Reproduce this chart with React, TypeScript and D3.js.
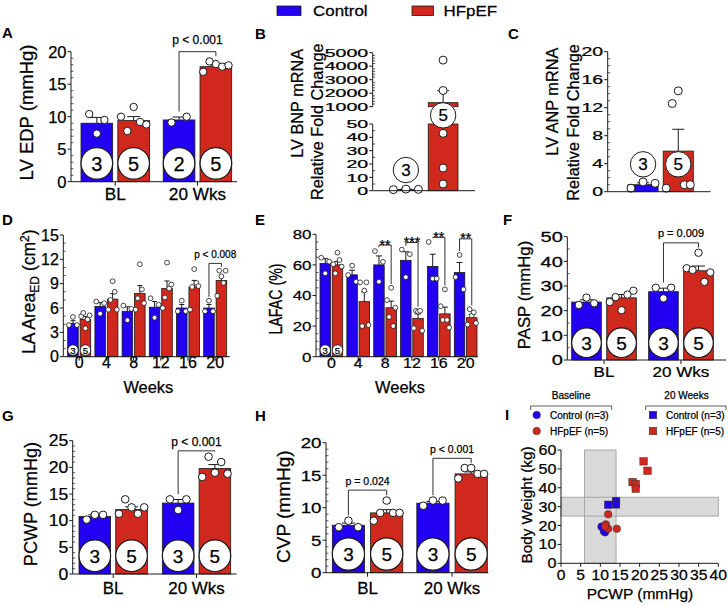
import React from 'react';
import * as d3 from 'd3';

const FONT = "'Liberation Sans', Arial, Helvetica, sans-serif";
const BLUE = '#2200f2';
const RED = '#d0281c';
const INK = '#1a1a1a';
const SERIES = ['Control', 'HFpEF'];
const COLORS = [BLUE, RED];

// ---------------- data ----------------
const GROUPS_BL = ['BL', '20 Wks'];
const WEEKS = ['0', '4', '8', '12', '16', '20'];

// A: LV EDP
const aTicks = [0, 5, 10, 15, 20];
const aCtrlMean = [9.0, 9.5];
const aHfMean = [9.4, 17.7];
const aCtrlPts = [[10.4, 7.4, 9.5], [9.1, 10.0]];
const aHfPts = [[10.0, 7.8, 11.5, 9.2, 8.8], [16.9, 18.5, 18.1, 17.7, 17.9]];
const aCtrlN = [3, 2];
const aHfN = [5, 5];

// B: LV BNP mRNA (broken axis)
const bTicksLow = [0, 10, 20, 30, 40, 50];
const bTicksHigh = [1000, 2000, 3000, 4000, 5000];
const bCtrlMean = 1.0;
const bHfMean = 1300;
const bCtrlPts = [0.8, 1.2, 1.0];
const bHfPts = [4450, 2200, 43, 17, 5];
const bN = [3, 5];

// C: LV ANP mRNA
const cTicks = [0, 4, 8, 12, 16, 20];
const cCtrlMean = [1.0];
const cHfMean = [5.8];
const cCtrlPts = [[0.5, 1.4, 1.2]];
const cHfPts = [[0.5, 12.6, 14.4, 1.0, 1.0]];
const cCtrlN = [3];
const cHfN = [5];

// D: LA Area ED
const dTicks = [0, 3, 6, 9, 12, 15];
const dCtrlMean = [4.1, 6.2, 5.6, 6.1, 6.0, 6.0];
const dHfMean = [4.6, 7.1, 7.8, 8.4, 8.6, 9.4];
const dCtrlPts = [[3.9, 4.9, 3.9], [6.8, 5.3, 6.6], [6.3, 4.5, 5.9], [7.2, 4.8, 6.4], [5.6, 6.9, 5.6], [5.6, 6.9, 5.6]];
const dHfPts = [[5.0, 5.4, 3.5, 4.6, 5.1], [5.8, 7.0, 9.3, 8.0, 5.8], [5.8, 7.2, 11.4, 8.3, 6.6], [6.0, 7.3, 11.6, 8.4, 8.9], [5.8, 8.6, 10.8, 9.1, 8.7], [7.5, 10.6, 9.9, 9.1, 10.6]];
const dCtrlN = [3, null, null, null, null, null];
const dHfN = [5, null, null, null, null, null];

// E: LAFAC
const eTicks = [0, 20, 40, 60, 80];
const eCtrlMean = [61, 53.5, 60, 63, 59, 55];
const eHfMean = [60, 36, 32, 25, 28, 25.5];
const eCtrlPts = [[64.7, 54.5, 62.1], [53.4, 59.5, 49], [69, 49, 62], [70, 52, 67], [75, 51, 51], [52, 66.5, 44]];
const eHfPts = [[60.4, 54.5, 68, 63.2, 58.9], [48.6, 20, 43.2, 48.6, 20.7], [37, 26, 45, 20, 32], [18.6, 30, 29.4, 30, 17], [33, 24, 44, 24, 19], [21, 31, 27, 29, 22]];
const eCtrlN = [3, null, null, null, null, null];
const eHfN = [5, null, null, null, null, null];
const eStars = ['**', '***', '**', '**'];
const eStarLevels = [73, 74.6, 78, 77];

// F: PASP
const fTicks = [0, 10, 20, 30, 40, 50];
const fCtrlMean = [23.5, 27.7];
const fHfMean = [25.2, 36.2];
const fCtrlPts = [[22.3, 25.3, 23.0], [29.3, 25.0, 29.3]];
const fHfPts = [[23.5, 25.5, 20.2, 26.5, 28.1], [37.2, 36.5, 43.5, 31.7, 35.5]];
const fN = [[3, 3], [5, 5]];

// G: PCWP
const gTicks = [0, 5, 10, 15, 20, 25];
const gCtrlMean = [10.8, 13.3];
const gHfMean = [12.1, 19.8];
const gCtrlPts = [[10.2, 11.1, 11.1], [14.0, 12.0, 14.0]];
const gHfPts = [[11.3, 14.0, 12.5, 11.3, 12.5], [18.2, 22.0, 19.0, 21.0, 18.8]];
const gN = [[3, 3], [5, 5]];

// H: CVP
const hTicks = [0, 5, 10, 15, 20];
const hCtrlMean = [7.3, 10.7];
const hHfMean = [9.2, 15.2];
const hCtrlPts = [[7.0, 8.0, 7.0], [10.3, 11.1, 11.1]];
const hHfPts = [[8.0, 9.2, 11.1, 9.2, 9.2], [14.5, 16.1, 16.1, 15.2, 15.2]];
const hN = [[3, 3], [5, 5]];

// I: Body weight vs PCWP
const iXTicks = [0, 5, 10, 15, 20, 25, 30, 35, 40];
const iYTicks = [0, 10, 20, 30, 40, 50, 60];
const iBandX = [6, 14];
const iBandY = [25, 35];
const iBaseCtrlX = [10.9, 10.3, 11.2];
const iBaseCtrlY = [17.0, 19.4, 16.4];
const iBaseHfX = [12.0, 11.4, 12.0, 14.2, 11.2];
const iBaseHfY = [26.0, 20.6, 18.3, 18.3, 19.6];
const iWkCtrlX = [12.0, 14.0, 14.0];
const iWkCtrlY = [31.0, 33.0, 31.2];
const iWkHfX = [21.0, 22.0, 18.2, 19.0, 19.0];
const iWkHfY = [54.0, 49.0, 43.0, 42.0, 39.5];

// ---------------- helpers ----------------
function Txt({ x, y, children, size, anchor = 'middle', sx = 1, rot = false, weight = 'normal', dy }: any) {
  const tf = `translate(${x},${y})${rot ? ' rotate(-90)' : ''} scale(${rot ? 1 : sx},${rot ? sx : 1})`;
  return (
    <text
      transform={tf}
      fontSize={size}
      textAnchor={anchor}
      fontWeight={weight}
      dy={dy}
      fontFamily={FONT}
      fill="#000"
      stroke="#000"
      strokeWidth={weight === 'bold' ? 0 : 0.25}
    >
      {children}
    </text>
  );
}

function sem(v: number[]) {
  return v.length > 1 ? (d3.deviation(v) as number) / Math.sqrt(v.length) : 0;
}

function BarPanel(p: any) {
  const y = d3.scaleLinear().domain(p.domain).range([p.yBottom, p.yTop]);
  const xg = d3.scaleBand<string>().domain(p.groups).range(p.barsRange).paddingInner(p.padG).paddingOuter(0);
  const xs = d3.scaleBand<string>().domain(SERIES).range([0, xg.bandwidth()]).paddingInner(p.padS).paddingOuter(0);
  const bw = xs.bandwidth();
  const cx = (gi: number, si: number) => (xg(p.groups[gi]) as number) + (xs(SERIES[si]) as number) + bw / 2;
  const minors = d3
    .range(p.domain[0], p.domain[1] + 1e-6, p.minor)
    .filter((v: number) => !p.ticks.some((t: number) => Math.abs(t - v) < 1e-6));
  const offs = (n: number) => {
    const s = n >= 5 ? p.sp5 : p.sp3;
    if (n === 1) return [0];
    return d3.range(n).map((i) => (-1 + (2 * i) / (n - 1)) * s * bw);
  };
  const r = p.circR ?? bw / 2;
  const bars: any[] = [];
  p.groups.forEach((g: string, gi: number) => {
    SERIES.forEach((s, si) => {
      const m = p.means[si][gi];
      const pts = p.pts[si][gi];
      const x0 = cx(gi, si);
      const e = sem(pts);
      bars.push({ gi, si, m, pts, x0, e, n: p.ns[si][gi] });
    });
  });
  return (
    <g>
      {bars.map((b, i) => (
        <rect key={'r' + i} x={b.x0 - bw / 2} y={y(b.m)} width={bw} height={p.yBottom - y(b.m)} fill={COLORS[b.si]} stroke={INK} strokeWidth={0.8} />
      ))}
      {bars.map((b, i) => (
        <g key={'e' + i} stroke={INK} strokeWidth={1}>
          <line x1={b.x0} x2={b.x0} y1={y(b.m)} y2={y(b.m + b.e)} />
          <line x1={b.x0 - p.capW / 2} x2={b.x0 + p.capW / 2} y1={y(b.m + b.e)} y2={y(b.m + b.e)} />
        </g>
      ))}
      {bars
        .filter((b) => b.n != null)
        .map((b, i) => {
          const cy = p.circCy ?? p.yBottom - r - p.circGap;
          return (
            <g key={'c' + i}>
              <circle cx={b.x0} cy={cy} r={r} fill="#fff" stroke={INK} strokeWidth={p.circSW ?? 1.2} />
              <Txt x={b.x0} y={cy} size={p.circFont} dy="0.36em">
                {b.n}
              </Txt>
            </g>
          );
        })}
      {bars.map((b, i) => {
        const o = offs(b.pts.length);
        return (
          <g key={'p' + i}>
            {b.pts.map((v: number, k: number) => (
              <circle key={k} cx={b.x0 + o[k]} cy={y(v)} r={p.ptR} fill="#fff" stroke={INK} strokeWidth={p.ptSW ?? 1} />
            ))}
          </g>
        );
      })}
      {/* axes */}
      <line x1={p.axisX} x2={p.axisX} y1={p.yBottom} y2={p.yTop} stroke={INK} strokeWidth={1} />
      <line x1={p.axisX} x2={p.xEnd} y1={p.yBottom} y2={p.yBottom} stroke={INK} strokeWidth={1} />
      {p.ticks.map((t: number) => (
        <g key={'t' + t}>
          <line x1={p.axisX - 3.5} x2={p.axisX} y1={y(t)} y2={y(t)} stroke={INK} strokeWidth={1} />
          <Txt x={p.axisX - 4.5} y={y(t)} size={p.tickFont} sx={p.tickSx} anchor="end" dy="0.36em">
            {String(t)}
          </Txt>
        </g>
      ))}
      {minors.map((t: number) => (
        <line key={'m' + t} x1={p.axisX} x2={p.axisX + 2.5} y1={y(t)} y2={y(t)} stroke={INK} strokeWidth={0.7} />
      ))}
      {p.catY != null &&
        p.groups.map((g: string) => {
          const gx = (xg(g) as number) + xg.bandwidth() / 2;
          return (
            <g key={'g' + g}>
              <line x1={gx} x2={gx} y1={p.yBottom} y2={p.yBottom + 4} stroke={INK} strokeWidth={1} />
              <Txt x={gx} y={p.catY} size={p.catFont} sx={p.catSx}>
                {g}
              </Txt>
            </g>
          );
        })}
      {p.brackets.map((b: any, i: number) => {
        const xl = cx(b.g, 0);
        const xr = cx(b.g, 1);
        const yl = y(d3.max(p.pts[0][b.g] as number[]) as number) - p.ptR - 1.5;
        const yr = y(d3.max(p.pts[1][b.g] as number[]) as number) - p.ptR - 1.5;
        const yb = y(b.level);
        return (
          <g key={'b' + i}>
            <path d={`M${xl},${yl}V${yb}H${xr}V${yr}`} fill="none" stroke={INK} strokeWidth={0.9} />
            <Txt x={(xl + xr) / 2} y={yb - b.gap} size={b.size} sx={b.sx ?? 1}>
              {b.label}
            </Txt>
          </g>
        );
      })}
    </g>
  );
}

function PanelB() {
  const yLo = d3.scaleLinear().domain([0, 50]).range([190.7, 124]);
  const yHi = d3.scaleLinear().domain([1000, 5000]).range([106.7, 52.7]);
  const yv = (v: number) => (v <= 50 ? yLo(v) : yHi(v));
  const axisX = 372.7;
  const xs = d3.scaleBand<string>().domain(SERIES).range([391, 458]).paddingInner(0.2);
  const bw = xs.bandwidth();
  const cxs = SERIES.map((s) => (xs(s) as number) + bw / 2);
  const minorLo = d3.range(0, 50.01, 5).filter((v) => v % 10 !== 0);
  const minorHi = d3.range(1000, 5000.01, 200).filter((v) => v % 1000 !== 0);
  const ctrlE = sem(bCtrlPts);
  const hfE = sem(bHfPts);
  const ctrlOffs = [-0.42, 0, 0.42].map((f) => f * bw);
  const ptR = 4;
  const midY = (yHi(1000) + yLo(50)) / 2;
  return (
    <g>
      <rect x={cxs[0] - bw / 2} y={yLo(bCtrlMean)} width={bw} height={yLo(0) - yLo(bCtrlMean)} fill={BLUE} stroke={INK} strokeWidth={0.6} />
      <rect x={cxs[1] - bw / 2} y={yLo(50)} width={bw} height={yLo(0) - yLo(50)} fill={RED} stroke={INK} strokeWidth={0.8} />
      <rect x={cxs[1] - bw / 2} y={yHi(bHfMean)} width={bw} height={yHi(1000) - yHi(bHfMean)} fill={RED} stroke={INK} strokeWidth={0.8} />
      <g stroke={INK} strokeWidth={1}>
        <line x1={cxs[1]} x2={cxs[1]} y1={yHi(bHfMean)} y2={yHi(bHfMean + hfE)} />
        <line x1={cxs[1] - 6} x2={cxs[1] + 6} y1={yHi(bHfMean + hfE)} y2={yHi(bHfMean + hfE)} />
        <line x1={cxs[0] - 6} x2={cxs[0] + 6} y1={yLo(bCtrlMean + ctrlE)} y2={yLo(bCtrlMean + ctrlE)} />
      </g>
      <circle cx={cxs[0]} cy={yLo(15.5)} r={12.7} fill="#fff" stroke={INK} strokeWidth={1} />
      <Txt x={cxs[0]} y={yLo(15.5)} size={17} dy="0.36em">{bN[0]}</Txt>
      <circle cx={cxs[1]} cy={midY} r={12.7} fill="#fff" stroke={INK} strokeWidth={1} />
      <Txt x={cxs[1]} y={midY} size={17} dy="0.36em">{bN[1]}</Txt>
      {bCtrlPts.map((v, k) => (
        <circle key={'bc' + k} cx={cxs[0] + ctrlOffs[k]} cy={yv(v)} r={ptR} fill="#fff" stroke={INK} strokeWidth={1} />
      ))}
      {bHfPts.map((v, k) => (
        <circle key={'bh' + k} cx={cxs[1]} cy={yv(v)} r={ptR} fill="#fff" stroke={INK} strokeWidth={1} />
      ))}
      <line x1={axisX} x2={axisX} y1={yLo(0)} y2={yLo(50)} stroke={INK} strokeWidth={1} />
      <line x1={axisX} x2={axisX} y1={yHi(1000)} y2={yHi(5000)} stroke={INK} strokeWidth={1} />
      <line x1={axisX} x2={475} y1={yLo(0)} y2={yLo(0)} stroke={INK} strokeWidth={1} />
      {bTicksLow.map((t) => (
        <g key={'bl' + t}>
          <line x1={axisX - 3.5} x2={axisX} y1={yLo(t)} y2={yLo(t)} stroke={INK} />
          <Txt x={axisX - 4.5} y={yLo(t)} size={11.5} sx={1.7} anchor="end" dy="0.36em">{String(t)}</Txt>
        </g>
      ))}
      {bTicksHigh.map((t) => (
        <g key={'bh' + t}>
          <line x1={axisX - 3.5} x2={axisX} y1={yHi(t)} y2={yHi(t)} stroke={INK} />
          <Txt x={axisX - 4.5} y={yHi(t)} size={11.5} sx={1.7} anchor="end" dy="0.36em">{String(t)}</Txt>
        </g>
      ))}
      {minorLo.map((t) => (
        <line key={'ml' + t} x1={axisX} x2={axisX + 2.5} y1={yLo(t)} y2={yLo(t)} stroke={INK} strokeWidth={0.7} />
      ))}
      {minorHi.map((t) => (
        <line key={'mh' + t} x1={axisX} x2={axisX + 2.5} y1={yHi(t)} y2={yHi(t)} stroke={INK} strokeWidth={0.7} />
      ))}
    </g>
  );
}

function PanelI() {
  const x = d3.scaleLinear().domain([0, 40]).range([561, 718.3]);
  const y = d3.scaleLinear().domain([0, 60]).range([563.3, 450]);
  const band = { fill: '#d9d9d9' };
  const sq = 7.5;
  return (
    <g>
      <rect x={x(iBandX[0])} y={y(60)} width={x(iBandX[1]) - x(iBandX[0])} height={y(0) - y(60)} {...band} />
      <rect x={x(0)} y={y(iBandY[1])} width={x(40) - x(0)} height={y(iBandY[0]) - y(iBandY[1])} {...band} />
      <rect x={x(iBandX[0])} y={y(60)} width={x(iBandX[1]) - x(iBandX[0])} height={y(0) - y(60)} fill="none" stroke="#999" strokeWidth={0.8} />
      <rect x={x(0)} y={y(iBandY[1])} width={x(40) - x(0)} height={y(iBandY[0]) - y(iBandY[1])} fill="none" stroke="#999" strokeWidth={0.8} />
      {iBaseCtrlX.map((v, k) => (
        <circle key={'ibc' + k} cx={x(v)} cy={y(iBaseCtrlY[k])} r={3.8} fill={BLUE} stroke="#333" strokeWidth={0.5} />
      ))}
      {iBaseHfX.map((v, k) => (
        <circle key={'ibh' + k} cx={x(v)} cy={y(iBaseHfY[k])} r={3.8} fill={RED} stroke="#333" strokeWidth={0.5} />
      ))}
      {iWkCtrlX.map((v, k) => (
        <rect key={'iwc' + k} x={x(v) - sq / 2} y={y(iWkCtrlY[k]) - sq / 2} width={sq} height={sq} fill={BLUE} stroke="#333" strokeWidth={0.5} />
      ))}
      {iWkHfX.map((v, k) => (
        <rect key={'iwh' + k} x={x(v) - sq / 2} y={y(iWkHfY[k]) - sq / 2} width={sq} height={sq} fill={RED} stroke="#333" strokeWidth={0.5} />
      ))}
      <line x1={x(0)} x2={x(0)} y1={y(0)} y2={y(60)} stroke={INK} />
      <line x1={x(0)} x2={x(40)} y1={y(0)} y2={y(0)} stroke={INK} />
      {iYTicks.map((t) => (
        <g key={'iy' + t}>
          <line x1={x(0) - 3.5} x2={x(0)} y1={y(t)} y2={y(t)} stroke={INK} />
          <Txt x={x(0) - 4.5} y={y(t)} size={14} sx={1.15} anchor="end" dy="0.36em">{String(t)}</Txt>
        </g>
      ))}
      {iXTicks.map((t) => (
        <g key={'ix' + t}>
          <line x1={x(t)} x2={x(t)} y1={y(0)} y2={y(0) + 3.5} stroke={INK} />
          <Txt x={x(t)} y={580} size={14.5} sx={1.08}>{String(t)}</Txt>
        </g>
      ))}
      {/* legend */}
      <Txt x={571} y={399} size={10}>Baseline</Txt>
      <path d="M530.7,410V406H611.7V410" fill="none" stroke="#333" strokeWidth={0.8} />
      <Txt x={686.5} y={399} size={10}>20 Weeks</Txt>
      <path d="M645.7,410V406H726V410" fill="none" stroke="#333" strokeWidth={0.8} />
      <circle cx={536.7} cy={415} r={3.8} fill={BLUE} stroke="#333" strokeWidth={0.5} />
      <Txt x={550} y={418.6} size={10} anchor="start">Control (n=3)</Txt>
      <circle cx={536.7} cy={431} r={3.8} fill={RED} stroke="#333" strokeWidth={0.5} />
      <Txt x={550} y={434.6} size={10} anchor="start">HFpEF (n=5)</Txt>
      <rect x={653 - sq / 2} y={415 - sq / 2} width={sq} height={sq} fill={BLUE} stroke="#333" strokeWidth={0.5} />
      <Txt x={666} y={418.6} size={10} anchor="start">Control (n=3)</Txt>
      <rect x={653 - sq / 2} y={431 - sq / 2} width={sq} height={sq} fill={RED} stroke="#333" strokeWidth={0.5} />
      <Txt x={666} y={434.6} size={10} anchor="start">HFpEF (n=5)</Txt>
    </g>
  );
}

export default function App() {
  return (
    <svg width={728} height={605} style={{ position: 'absolute', left: 0, top: 0, background: '#fff' }} fontFamily={FONT}>
      <rect width={728} height={605} fill="#fff" />
      {/* top legend */}
      <rect x={277} y={6} width={24} height={9.5} fill={BLUE} stroke={INK} strokeWidth={0.8} />
      <Txt x={313} y={15.5} size={15} sx={1.13} anchor="start">Control</Txt>
      <rect x={412} y={6} width={21.5} height={9.5} fill={RED} stroke={INK} strokeWidth={0.8} />
      <Txt x={443.5} y={15.5} size={15} sx={1.13} anchor="start">HFpEF</Txt>

      {/* panel letters */}
      <Txt x={2} y={38} size={15} weight="bold" anchor="start">A</Txt>
      <Txt x={255} y={39} size={15} weight="bold" anchor="start">B</Txt>
      <Txt x={508} y={39} size={15} weight="bold" anchor="start">C</Txt>
      <Txt x={2} y={225} size={15} weight="bold" anchor="start">D</Txt>
      <Txt x={255} y={225} size={15} weight="bold" anchor="start">E</Txt>
      <Txt x={503} y={225} size={15} weight="bold" anchor="start">F</Txt>
      <Txt x={2} y={421} size={15} weight="bold" anchor="start">G</Txt>
      <Txt x={255} y={421} size={15} weight="bold" anchor="start">H</Txt>
      <Txt x={505} y={420} size={15} weight="bold" anchor="start">I</Txt>

      {/* A */}
      <BarPanel
        axisX={71} yBottom={181.7} yTop={51.7} xEnd={237} domain={[0, 20]} ticks={aTicks} minor={1}
        barsRange={[81, 231.7]} padG={0.167} padS={0.14} groups={GROUPS_BL}
        means={[aCtrlMean, aHfMean]} pts={[aCtrlPts, aHfPts]} ns={[aCtrlN, aHfN]}
        ptR={3.7} sp3={0.24} sp5={0.4} capW={13} circFont={20} circGap={2.5}
        tickFont={16.5} tickSx={1} catFont={16.5} catSx={1.04} catY={200}
        brackets={[{ g: 1, level: 20, label: 'p < 0.001', size: 12, gap: 8 }]}
      />
      <Txt x={33} y={112.5} size={18.5} rot>LV EDP (mmHg)</Txt>

      {/* B */}
      <PanelB />
      <Txt x={303.3} y={103.3} size={16.3} rot>LV BNP mRNA</Txt>
      <Txt x={322.7} y={121.7} size={16.3} rot>Relative Fold Change</Txt>

      {/* C */}
      <BarPanel
        axisX={607.7} yBottom={191.7} yTop={51.7} xEnd={710.7} domain={[0, 20]} ticks={cTicks} minor={1}
        barsRange={[628, 693.3]} padG={0} padS={0.145} groups={['']}
        means={[cCtrlMean, cHfMean]} pts={[cCtrlPts, cHfPts]} ns={[cCtrlN, cHfN]}
        ptR={4} sp3={0.4} sp5={0.4} capW={12} circR={12.7} circCy={164.3} circFont={17} circGap={0} circSW={1}
        tickFont={13} tickSx={1.5} brackets={[]}
      />
      <Txt x={558.3} y={101.7} size={16.3} rot>LV ANP mRNA</Txt>
      <Txt x={579} y={122.5} size={16.3} rot>Relative Fold Change</Txt>

      {/* D */}
      <BarPanel
        axisX={63.3} yBottom={356.7} yTop={235} xEnd={230} domain={[0, 15]} ticks={dTicks} minor={1}
        barsRange={[67.7, 226.7]} padG={0.154} padS={0.15} groups={WEEKS}
        means={[dCtrlMean, dHfMean]} pts={[dCtrlPts, dHfPts]} ns={[dCtrlN, dHfN]}
        ptR={2.4} ptSW={0.8} sp3={0.38} sp5={0.4} capW={5} circR={5.3} circFont={9.5} circGap={1.3} circSW={0.9}
        tickFont={16} tickSx={1} catFont={16} catSx={1} catY={368.3}
        brackets={[{ g: 5, level: 11.5, label: 'p < 0.008', size: 10, gap: 5 }]}
      />
      <text transform="translate(35,291.7) rotate(-90)" fontSize={17.5} textAnchor="middle" fontFamily={FONT} stroke="#000" strokeWidth={0.25}>
        LA Area<tspan fontSize={12} dy={4}>ED</tspan>
        <tspan dy={-4}> (cm</tspan>
        <tspan fontSize={12} dy={-6}>2</tspan>
        <tspan dy={6}>)</tspan>
      </text>
      <Txt x={148.3} y={393.3} size={16.4}>Weeks</Txt>

      {/* E */}
      <BarPanel
        axisX={316} yBottom={356.7} yTop={234.3} xEnd={478} domain={[0, 80]} ticks={eTicks} minor={5}
        barsRange={[320, 477]} padG={0.155} padS={0.14} groups={WEEKS}
        means={[eCtrlMean, eHfMean]} pts={[eCtrlPts, eHfPts]} ns={[eCtrlN, eHfN]}
        ptR={2.4} ptSW={0.8} sp3={0.38} sp5={0.4} capW={6} circR={5.3} circFont={9.5} circGap={1.3} circSW={0.9}
        tickFont={13.5} tickSx={1.25} catFont={14.5} catSx={1.1} catY={368.3}
        brackets={eStars.map((s, i) => ({ g: i + 2, level: eStarLevels[i], label: s, size: 14, gap: -4.5 }))}
      />
      <Txt x={282} y={299} size={14.2} sx={1.35} rot>LAFAC (%)</Txt>
      <Txt x={400} y={393.3} size={16.4}>Weeks</Txt>

      {/* F */}
      <BarPanel
        axisX={567.3} yBottom={360} yTop={236.7} xEnd={726} domain={[0, 50]} ticks={fTicks} minor={5}
        barsRange={[571.7, 713.3]} padG={0.16} padS={0.155} groups={GROUPS_BL}
        means={[fCtrlMean, fHfMean]} pts={[fCtrlPts, fHfPts]} ns={fN}
        ptR={3.7} sp3={0.26} sp5={0.4} capW={13} circFont={19} circGap={2.5}
        tickFont={14.5} tickSx={1.38} catFont={15.5} catSx={1.1} catY={377.3}
        brackets={[{ g: 1, level: 47.5, label: 'p = 0.009', size: 11, gap: 6 }]}
      />
      <Txt x={530} y={295} size={16.8} rot>PASP (mmHg)</Txt>

      {/* G */}
      <BarPanel
        axisX={72.7} yBottom={574} yTop={440.7} xEnd={236.7} domain={[0, 25]} ticks={gTicks} minor={1}
        barsRange={[79, 230.7]} padG={0.18} padS={0.14} groups={GROUPS_BL}
        means={[gCtrlMean, gHfMean]} pts={[gCtrlPts, gHfPts]} ns={gN}
        ptR={3.8} sp3={0.26} sp5={0.4} capW={13} circFont={19} circGap={2.5}
        tickFont={16} tickSx={1.1} catFont={16} catSx={1.06} catY={594}
        brackets={[{ g: 1, level: 23.1, label: 'p < 0.001', size: 12, gap: 5 }]}
      />
      <Txt x={36.7} y={504} size={18.1} rot>PCWP (mmHg)</Txt>

      {/* H */}
      <BarPanel
        axisX={326} yBottom={572.7} yTop={442.7} xEnd={488.3} domain={[0, 20]} ticks={hTicks} minor={1}
        barsRange={[332.3, 487.3]} padG={0.166} padS={0.157} groups={GROUPS_BL}
        means={[hCtrlMean, hHfMean]} pts={[hCtrlPts, hHfPts]} ns={hN}
        ptR={3.8} sp3={0.3} sp5={0.4} capW={13} circFont={19} circGap={2.5}
        tickFont={15} tickSx={1.25} catFont={16} catSx={1.06} catY={594}
        brackets={[
          { g: 0, level: 12.7, label: 'p = 0.024', size: 10.5, gap: 5 },
          { g: 1, level: 17.6, label: 'p < 0.001', size: 10.5, gap: 5 },
        ]}
      />
      <Txt x={290} y={506.7} size={19} rot>CVP (mmHg)</Txt>

      {/* I */}
      <PanelI />
      <Txt x={531.7} y={505} size={15.3} rot>Body Weight (kg)</Txt>
      <Txt x={640} y={599.3} size={15.5}>PCWP (mmHg)</Txt>
    </svg>
  );
}
